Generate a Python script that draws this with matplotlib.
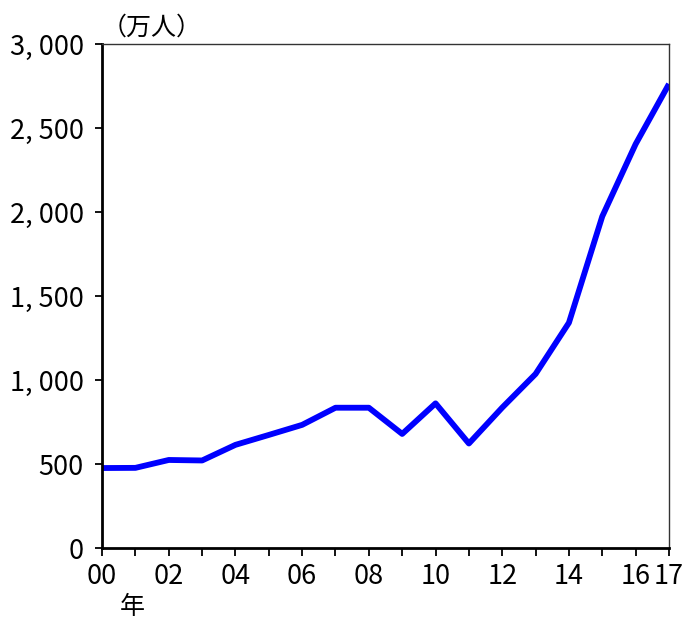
import numpy as np
import matplotlib.pyplot as plt
from matplotlib.ticker import FuncFormatter

plt.rcParams['font.family'] = ['Noto Sans CJK JP', 'DejaVu Sans']

# visitors (10k persons), 2000-2017
years = np.arange(2000, 2018)
visitors = [476, 477, 524, 521, 614, 673, 733, 835, 835, 679,
            861, 622, 836, 1036, 1341, 1974, 2404, 2762]
xtick_years = [2000, 2002, 2004, 2006, 2008, 2010, 2012, 2014, 2016, 2017]
yticks = [0, 500, 1000, 1500, 2000, 2500, 3000]

fig = plt.figure(figsize=(6.85, 6.19), dpi=100)
ax = fig.add_axes([0.149, 0.1147, 0.9766 - 0.149, 0.9289 - 0.1147])

ax.plot(years, visitors, color='#0000ff', linewidth=4.2, solid_capstyle='butt')

ax.set_xlim(2000, 2017)
ax.set_ylim(0, 3000)
ax.set_xticks(years)
ax.set_xticklabels(['{:02d}'.format(y % 100) if y in xtick_years else '' for y in years])
ax.set_yticks(yticks)
ax.yaxis.set_major_formatter(FuncFormatter(lambda v, p: '{:,}'.format(int(v)).replace(',', ', ')))

ax.tick_params(axis='both', direction='out', labelsize=19.5, width=1.3, colors='black')
ax.tick_params(axis='x', length=6, pad=5)
ax.tick_params(axis='y', length=5, pad=8)

for s in ['left', 'bottom']:
    ax.spines[s].set_linewidth(2)
for s in ['top', 'right']:
    ax.spines[s].set_linewidth(1)
    ax.spines[s].set_color('#333333')

fig.text(0.148, 0.955, '（万人）', fontsize=18, ha='left', va='center')
fig.text(0.193, 0.02, '年', fontsize=18, ha='center', va='center')

plt.savefig('out.png', dpi=100)
